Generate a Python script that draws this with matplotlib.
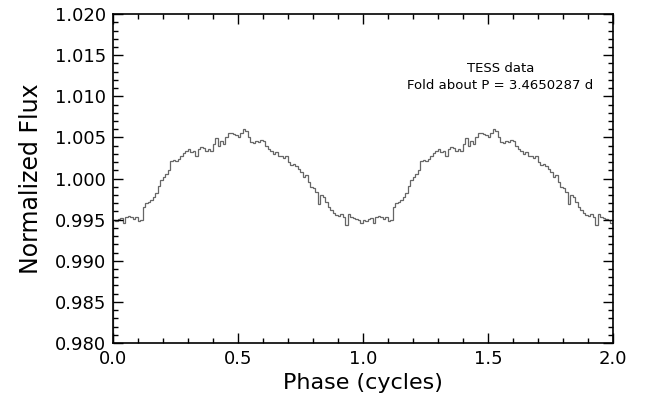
import numpy as np
import matplotlib
matplotlib.use('Agg')
import matplotlib.pyplot as plt
from matplotlib.ticker import MultipleLocator

# phase-binned flux, one cycle (100 bins of 0.01)
flux_cycle = [
    0.9950, 0.9948, 0.9951, 0.9952, 0.9946, 0.9953, 0.9955, 0.9953, 0.9951, 0.9953,
    0.9948, 0.9950, 0.9966, 0.9970, 0.9972, 0.9974, 0.9977, 0.9983, 0.9991, 0.9998,
    1.0002, 1.0005, 1.0010, 1.0021, 1.0023, 1.0021, 1.0024, 1.0027, 1.0031, 1.0033,
    1.0036, 1.0032, 1.0034, 1.0028, 1.0036, 1.0039, 1.0037, 1.0033, 1.0036, 1.0034,
    1.0042, 1.0049, 1.0040, 1.0046, 1.0042, 1.0050, 1.0056, 1.0055, 1.0054, 1.0053,
    1.0050, 1.0056, 1.0060, 1.0058, 1.0050, 1.0044, 1.0043, 1.0046, 1.0044, 1.0047,
    1.0046, 1.0040, 1.0036, 1.0033, 1.0030, 1.0032, 1.0027, 1.0028, 1.0025, 1.0027,
    1.0020, 1.0016, 1.0018, 1.0015, 1.0012, 1.0008, 1.0002, 1.0004, 0.9996, 0.9990,
    0.9988, 0.9984, 0.9969, 0.9980, 0.9978, 0.9972, 0.9966, 0.9962, 0.9958, 0.9956,
    0.9954, 0.9957, 0.9953, 0.9944, 0.9957, 0.9953, 0.9952, 0.9951, 0.9949, 0.9946,
]
n_cycles = 2
bin_width = 0.01
label_text = "TESS data\nFold about P = 3.4650287 d"

flux = np.tile(flux_cycle, n_cycles)
edges = np.arange(len(flux) + 1) * bin_width

fig = plt.figure(figsize=(6.52, 4.04), dpi=100)
ax = fig.add_axes([0.1733, 0.151, 0.7667, 0.814])

ax.stairs(flux, edges, color='#666666', linewidth=0.9)

ax.set_xlim(0, 2)
ax.set_ylim(0.980, 1.020)
ax.xaxis.set_major_locator(MultipleLocator(0.5))
ax.xaxis.set_minor_locator(MultipleLocator(0.1))
ax.yaxis.set_major_locator(MultipleLocator(0.005))
ax.yaxis.set_minor_locator(MultipleLocator(0.001))
ax.xaxis.set_major_formatter(plt.FormatStrFormatter('%.1f'))
ax.yaxis.set_major_formatter(plt.FormatStrFormatter('%.3f'))

ax.tick_params(which='both', direction='in', top=True, right=True, width=1.0, labelsize=13)
ax.tick_params(which='major', length=7.5, pad=5)
ax.tick_params(which='minor', length=3.8)
for s in ax.spines.values():
    s.set_linewidth(1.2)

ax.set_xlabel("Phase (cycles)", fontsize=16, labelpad=4)
ax.set_ylabel("Normalized Flux", fontsize=17, labelpad=8)

ax.text(0.775, 0.855, label_text, transform=ax.transAxes, ha='center', va='top',
        fontsize=9.5, linespacing=1.45)

fig.savefig("out.png", dpi=100)
